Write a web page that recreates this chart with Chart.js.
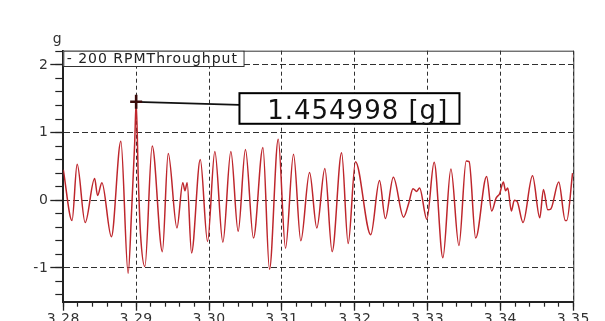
<!DOCTYPE html>
<html>
<head>
<meta charset="utf-8">
<script src="https://cdn.jsdelivr.net/npm/chart.js@4/dist/chart.umd.min.js"></script>
<style>
  html, body { margin: 0; padding: 0; background: #fff; width: 605px; height: 321px; overflow: hidden; }
  canvas { display: block; }
</style>
</head>
<body>
<canvas id="c" width="605" height="321"></canvas>
<script>
// Acceleration trace, 200 RPM throughput run (time in s, acceleration in g)
const seriesName = '200 RPMThroughput';
const unitName = 'g';
const sampleTimes = [
  3.2800, 3.2812, 3.2819, 3.2830, 3.2843, 3.2847, 3.2853, 3.2866, 3.2879, 3.2889,
  3.2894, 3.2898, 3.2900, 3.2903, 3.2906, 3.2912, 3.2922, 3.2936, 3.2944, 3.2956,
  3.2964, 3.2967, 3.2970, 3.2976, 3.2988, 3.2998, 3.3008, 3.3019, 3.3030, 3.3040,
  3.3050, 3.3061, 3.3074, 3.3083, 3.3095, 3.3105, 3.3116, 3.3126, 3.3138, 3.3148,
  3.3159, 3.3169, 3.3182, 3.3191, 3.3201, 3.3222, 3.3234, 3.3242, 3.3253, 3.3267,
  3.3274, 3.3280, 3.3285, 3.3289, 3.3299, 3.3309, 3.3321, 3.3332, 3.3343, 3.3353,
  3.3357, 3.3366, 3.3381, 3.3388, 3.3394, 3.3399, 3.3404, 3.3407, 3.3410, 3.3415,
  3.3419, 3.3423, 3.3431, 3.3444, 3.3454, 3.3459, 3.3465, 3.3469, 3.3480, 3.3489,
  3.3491, 3.3499
];
const accelG = [
  0.45, -0.30, 0.53, -0.33, 0.32, 0.07, 0.26, -0.54, 0.87, -1.08,
  -0.10, 0.85, 1.454998, 0.30, -0.50, -0.98, 0.80, -0.76, 0.69, -0.41,
  0.26, 0.14, 0.26, -0.78, 0.60, -0.61, 0.72, -0.62, 0.72, -0.46,
  0.75, -0.56, 0.78, -1.02, 0.90, -0.71, 0.68, -0.60, 0.41, -0.41,
  0.47, -0.76, 0.70, -0.64, 0.57, -0.51, 0.29, -0.27, 0.34, -0.25,
  -0.05, 0.17, 0.13, 0.18, -0.28, 0.56, -0.85, 0.46, -0.67, 0.58,
  0.57, -0.56, 0.35, -0.16, 0.03, 0.10, 0.27, 0.14, 0.18, -0.16,
  0.00, -0.02, -0.33, 0.36, -0.26, 0.16, -0.14, -0.13, 0.27, -0.30,
  -0.30, 0.40
];

// Axis ranges and tick labels
const xMin = 3.28, xMax = 3.35;
const yMin = -1.5, yMax = 2.21;
const xTickLabels = ['3.28', '3.29', '3.30', '3.31', '3.32', '3.33', '3.34', '3.35'];
const yTickLabels = ['-1', '0', '1', '2'];
const xMinorStep = 0.002;
const yMinorStep = 0.2;

function minorTicks(lo, hi, step) {
  const out = [];
  const n0 = Math.ceil(lo / step - 1e-6), n1 = Math.floor(hi / step + 1e-6);
  for (let n = n0; n <= n1; n++) out.push({ value: +(n * step).toFixed(6) });
  return out;
}

const FONT = "'DejaVu Sans', Verdana, sans-serif";
const INK = '#222';
const GRID = 'rgba(25,25,25,0.9)';

// Largest sample gets the value readout
const peakIndex = accelG.indexOf(Math.max(...accelG));

const decor = {
  id: 'decor',
  beforeDraw(chart) {
    chart.ctx.letterSpacing = '0.5px';
  },
  afterDraw(chart) {
    const { ctx, chartArea: a } = chart;
    const xs = chart.scales.x, ys = chart.scales.y;
    ctx.save();
    ctx.letterSpacing = '1px';

    // plot frame (top / right)
    ctx.strokeStyle = '#333';
    ctx.lineWidth = 1;
    ctx.beginPath();
    ctx.moveTo(a.left, a.top + 0.5);
    ctx.lineTo(a.right + 0.5, a.top + 0.5);
    ctx.lineTo(a.right + 0.5, a.bottom);
    ctx.stroke();

    // unit label above the value axis
    ctx.fillStyle = '#333';
    ctx.font = '14px ' + FONT;
    ctx.textAlign = 'center';
    ctx.textBaseline = 'alphabetic';
    ctx.fillText(unitName, a.left - 5.5, a.top - 8.2);

    // legend box in the top-left corner of the plot
    const legendText = '- ' + chart.data.datasets[0].label;
    ctx.font = '14px ' + FONT;
    const lw = ctx.measureText(legendText).width;
    ctx.fillStyle = '#fff';
    ctx.fillRect(a.left, a.top, lw + 9, 15.3);
    ctx.strokeStyle = '#333';
    ctx.lineWidth = 1;
    ctx.strokeRect(a.left + 0.5, a.top + 0.5, lw + 9, 15.3);
    ctx.fillStyle = INK;
    ctx.textAlign = 'left';
    ctx.fillText(legendText, a.left + 3.4, a.top + 12.6);

    // peak marker and value readout
    const t = sampleTimes[peakIndex], v = accelG[peakIndex];
    const px = xs.getPixelForValue(t), py = ys.getPixelForValue(v);
    const boxL = px + 103.3, boxT = py - 8.6, boxW = 220, boxH = 30.6;

    ctx.strokeStyle = '#111';
    ctx.lineWidth = 1.8;
    ctx.beginPath();
    ctx.moveTo(px, py);
    ctx.lineTo(boxL, py + 3);
    ctx.stroke();

    ctx.strokeStyle = '#3a0b0b';
    ctx.lineWidth = 2.6;
    ctx.beginPath();
    ctx.moveTo(px - 6, py); ctx.lineTo(px + 6, py);
    ctx.moveTo(px, py - 7); ctx.lineTo(px, py + 7);
    ctx.stroke();

    ctx.fillStyle = '#fff';
    ctx.fillRect(boxL, boxT, boxW, boxH);
    ctx.strokeStyle = '#000';
    ctx.lineWidth = 2;
    ctx.strokeRect(boxL, boxT, boxW, boxH);
    ctx.fillStyle = '#111';
    ctx.font = '26px ' + FONT;
    ctx.textAlign = 'left';
    ctx.fillText(v.toFixed(6) + ' [' + unitName + ']', boxL + 27.7, boxT + 25.6);
    ctx.restore();
  }
};

const points = sampleTimes.map((t, i) => ({ x: t, y: accelG[i] }));

new Chart(document.getElementById('c'), {
  type: 'line',
  data: {
    datasets: [{
      label: seriesName,
      data: points,
      borderColor: 'rgb(190,38,44)',
      borderWidth: 1.5,
      pointRadius: 0,
      fill: false,
      cubicInterpolationMode: 'monotone'
    }]
  },
  options: {
    responsive: false,
    animation: false,
    devicePixelRatio: 1,
    layout: { padding: { top: 50.7, right: 31.7, bottom: 0, left: 0 } },
    plugins: { legend: { display: false }, tooltip: { enabled: false } },
    events: [],
    scales: {
      x: {
        type: 'linear', position: 'bottom', min: xMin, max: xMax, weight: 1,
        afterBuildTicks: s => { s.ticks = xTickLabels.map(l => ({ value: Number(l) })); },
        afterFit: s => { s.height = 19.3; },
        ticks: {
          autoSkip: false, maxRotation: 0, padding: 0, color: '#333',
          font: { family: FONT, size: 14 },
          callback: (val, i) => xTickLabels[i]
        },
        grid: { color: GRID, lineWidth: 1, tickLength: 9, tickColor: INK, tickWidth: 1.3 },
        border: { display: true, color: INK, width: 2, dash: [4, 3] }
      },
      xMinor: {
        type: 'linear', position: 'bottom', min: xMin, max: xMax, weight: 0,
        afterBuildTicks: s => { s.ticks = minorTicks(xMin, xMax, xMinorStep); },
        afterFit: s => { s.height = 0; },
        ticks: { display: false },
        grid: { drawOnChartArea: false, tickLength: 5, tickColor: INK, tickWidth: 1.2 },
        border: { display: false }
      },
      y: {
        type: 'linear', position: 'left', min: yMin, max: yMax, weight: 1,
        afterBuildTicks: s => { s.ticks = yTickLabels.map(l => ({ value: Number(l) })); },
        afterFit: s => { s.width = 63.3; },
        ticks: {
          padding: 2, color: '#333',
          font: { family: FONT, size: 14 },
          callback: (val, i) => yTickLabels[i]
        },
        grid: { color: GRID, lineWidth: 1, tickLength: 13, tickColor: INK, tickWidth: 1.3 },
        border: { display: true, color: INK, width: 2, dash: [6, 3] }
      },
      yMinor: {
        type: 'linear', position: 'left', min: yMin, max: yMax, weight: 0,
        afterBuildTicks: s => { s.ticks = minorTicks(yMin, yMax, yMinorStep); },
        afterFit: s => { s.width = 0; },
        ticks: { display: false },
        grid: { drawOnChartArea: false, tickLength: 8, tickColor: INK, tickWidth: 1.2 },
        border: { display: false }
      }
    }
  },
  plugins: [decor]
});
</script>
</body>
</html>
